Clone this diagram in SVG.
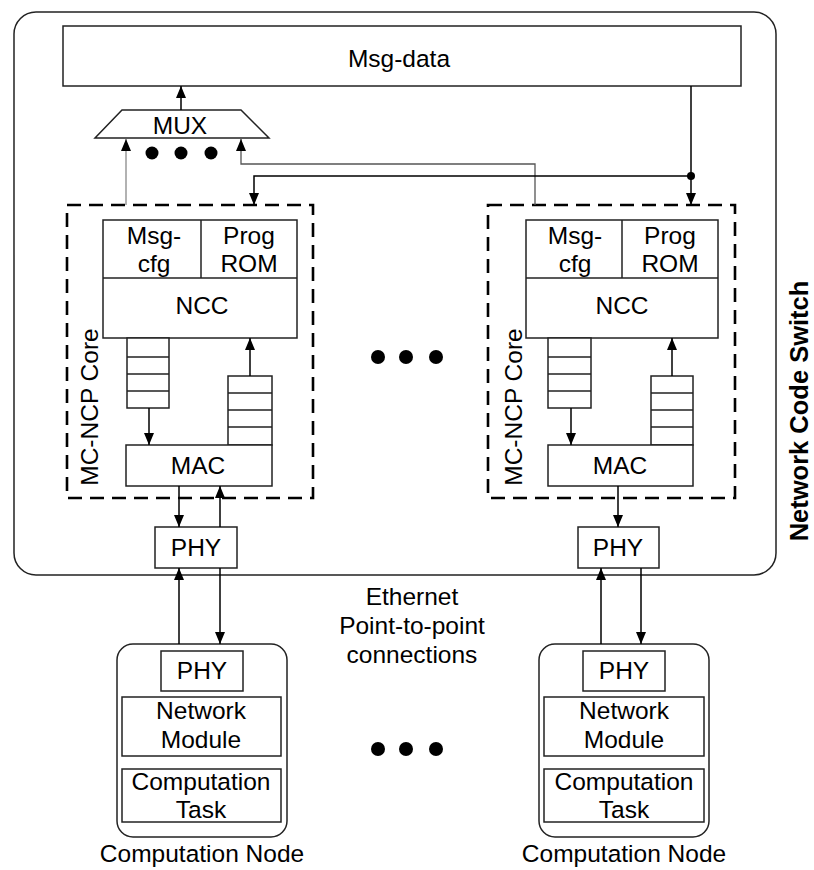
<svg xmlns="http://www.w3.org/2000/svg" width="814" height="870" viewBox="0 0 814 870">
<defs>
<marker id="ah" markerWidth="12" markerHeight="14" refX="12" refY="5" orient="auto" markerUnits="userSpaceOnUse" viewBox="0 0 12 10">
<path d="M0,0 L12,5 L0,10 Z" fill="#000"/>
</marker>
<style>
.b{fill:#fff;stroke:#222;stroke-width:1.5}
.n{fill:none;stroke:#222;stroke-width:1.5}
.d{fill:none;stroke:#000;stroke-width:2.6;stroke-dasharray:14,8}
.c{fill:none;stroke:#000;stroke-width:1.5}
.g{fill:none;stroke:#999;stroke-width:1.5}
.g2{fill:none;stroke:#555;stroke-width:1.3}
.t{font-family:"Liberation Sans",Arial,sans-serif;font-size:24.5px;fill:#000;text-anchor:middle}
.dot{fill:#000}
</style>
</defs>
<rect width="814" height="870" fill="#fff"/>
<g id="switch">
<rect x="14" y="12" width="762" height="563" rx="22" class="n" stroke-width="1.6"/>
<text class="t" transform="translate(808,411) rotate(-90)" style="font-weight:bold;font-size:25.5px">Network Code Switch</text>
</g>
<g id="msgdata">
<rect x="63" y="26" width="678" height="60" class="b"/>
<text class="t" x="399" y="67">Msg-data</text>
</g>
<g id="mux">
<polygon points="122,110 241,110 269,138 95,138" class="b"/>
<text class="t" x="180" y="134">MUX</text>
<circle class="dot" cx="152" cy="153" r="6.5"/>
<circle class="dot" cx="181" cy="153" r="6.5"/>
<circle class="dot" cx="211" cy="153" r="6.5"/>
</g>
<g id="core1">
<rect x="67" y="205" width="246" height="293" class="d"/>
<text class="t" transform="translate(98,407) rotate(-90)">MC-NCP Core</text>
<rect x="103" y="220" width="194" height="118" class="b"/>
<line x1="103" y1="278" x2="297" y2="278" class="n"/>
<line x1="201" y1="220" x2="201" y2="278" class="n"/>
<text class="t" x="154" y="244">Msg-</text>
<text class="t" x="154" y="272">cfg</text>
<text class="t" x="249" y="244">Prog</text>
<text class="t" x="249" y="272">ROM</text>
<text class="t" x="202" y="314">NCC</text>
<rect x="127" y="338" width="42" height="70" class="b"/>
<path d="M127,357H169M127,374H169M127,391H169" class="n"/>
<rect x="228" y="376" width="44" height="69" class="b"/>
<path d="M228,393H272M228,410H272M228,427H272" class="n"/>
<rect x="126" y="445" width="146" height="41" class="b"/>
<text class="t" x="198" y="474">MAC</text>
</g>
<g id="core2">
<rect x="488" y="205" width="247" height="293" class="d"/>
<text class="t" transform="translate(522,407) rotate(-90)">MC-NCP Core</text>
<rect x="526" y="220" width="192" height="118" class="b"/>
<line x1="526" y1="278" x2="718" y2="278" class="n"/>
<line x1="622" y1="220" x2="622" y2="278" class="n"/>
<text class="t" x="575" y="244">Msg-</text>
<text class="t" x="575" y="272">cfg</text>
<text class="t" x="670" y="244">Prog</text>
<text class="t" x="670" y="272">ROM</text>
<text class="t" x="622" y="314">NCC</text>
<rect x="548" y="338" width="43" height="70" class="b"/>
<path d="M548,357H591M548,374H591M548,391H591" class="n"/>
<rect x="651" y="376" width="42" height="69" class="b"/>
<path d="M651,393H693M651,410H693M651,427H693" class="n"/>
<rect x="548" y="445" width="145" height="41" class="b"/>
<text class="t" x="620" y="474">MAC</text>
</g>
<g id="middots">
<circle class="dot" cx="378" cy="357" r="7"/>
<circle class="dot" cx="406" cy="357" r="7"/>
<circle class="dot" cx="436" cy="357" r="7"/>
</g>
<g id="phy1">
<rect x="155" y="527" width="82" height="41" class="b"/>
<text class="t" x="196" y="556">PHY</text>
</g>
<g id="phy2">
<rect x="578" y="527" width="81" height="41" class="b"/>
<text class="t" x="618" y="556">PHY</text>
</g>
<g id="ethernet">
<text class="t" x="412" y="605">Ethernet</text>
<text class="t" x="412" y="634">Point-to-point</text>
<text class="t" x="412" y="663">connections</text>
</g>
<g id="node1">
<rect x="117" y="644" width="170" height="193" rx="16" class="n" stroke="#555"/>
<rect x="161" y="651" width="82" height="40" class="b"/>
<text class="t" x="202" y="679">PHY</text>
<rect x="122" y="697" width="159" height="59" class="b"/>
<text class="t" x="201" y="719">Network</text>
<text class="t" x="201" y="748">Module</text>
<rect x="122" y="769" width="159" height="53" class="b"/>
<text class="t" x="201" y="790">Computation</text>
<text class="t" x="201" y="818">Task</text>
<text class="t" x="202" y="862">Computation Node</text>
</g>
<g id="node2">
<rect x="539" y="644" width="170" height="193" rx="16" class="n" stroke="#555"/>
<rect x="583" y="651" width="82" height="40" class="b"/>
<text class="t" x="624" y="679">PHY</text>
<rect x="544" y="697" width="160" height="59" class="b"/>
<text class="t" x="624" y="719">Network</text>
<text class="t" x="624" y="748">Module</text>
<rect x="544" y="769" width="160" height="53" class="b"/>
<text class="t" x="624" y="790">Computation</text>
<text class="t" x="624" y="818">Task</text>
<text class="t" x="624" y="862">Computation Node</text>
</g>
<g id="botdots">
<circle class="dot" cx="378" cy="749" r="7"/>
<circle class="dot" cx="406" cy="749" r="7"/>
<circle class="dot" cx="436" cy="749" r="7"/>
</g>
<g id="connectors">
<line x1="181" y1="110" x2="181" y2="86" class="c" marker-end="url(#ah)"/>
<line x1="126" y1="205" x2="126" y2="139" class="g" marker-end="url(#ah)"/>
<polyline points="535,205 535,164 241,164 241,139" class="g2" marker-end="url(#ah)"/>
<polyline points="691,86 691,176 691,205" class="c" marker-end="url(#ah)"/>
<polyline points="691,176 254,176 254,205" class="c" marker-end="url(#ah)"/>
<circle class="dot" cx="691" cy="176" r="4"/>
<line x1="149" y1="408" x2="149" y2="445" class="c" marker-end="url(#ah)"/>
<line x1="250" y1="376" x2="250" y2="338" class="c" marker-end="url(#ah)"/>
<line x1="571" y1="408" x2="571" y2="445" class="c" marker-end="url(#ah)"/>
<line x1="672" y1="376" x2="672" y2="338" class="c" marker-end="url(#ah)"/>
<line x1="179" y1="486" x2="179" y2="527" class="c" marker-end="url(#ah)"/>
<line x1="220" y1="527" x2="220" y2="486" class="c" marker-end="url(#ah)"/>
<line x1="618" y1="486" x2="618" y2="527" class="c" marker-end="url(#ah)"/>
<line x1="179" y1="644" x2="179" y2="568" class="c" marker-end="url(#ah)"/>
<line x1="220" y1="568" x2="220" y2="644" class="c" marker-end="url(#ah)"/>
<line x1="601" y1="644" x2="601" y2="568" class="c" marker-end="url(#ah)"/>
<line x1="641" y1="568" x2="641" y2="644" class="c" marker-end="url(#ah)"/>
</g>
</svg>
